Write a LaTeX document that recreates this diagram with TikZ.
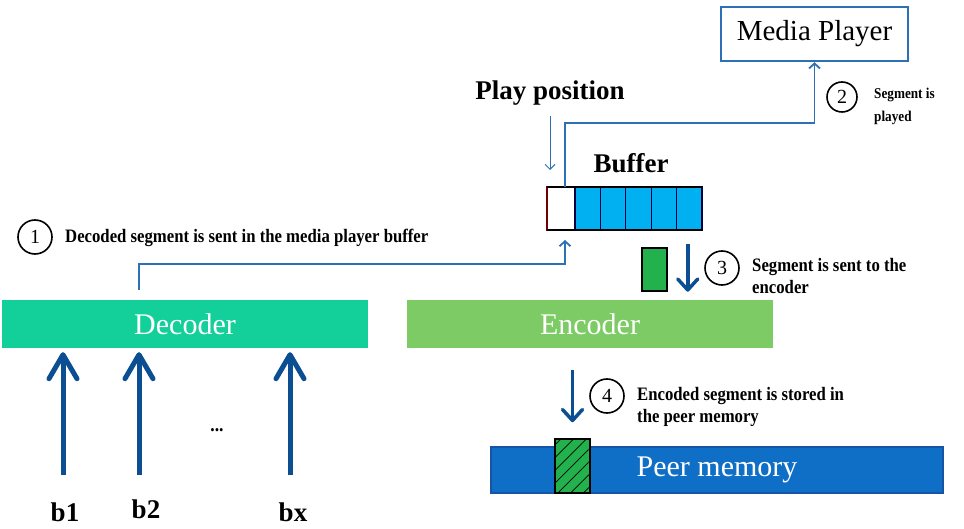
\documentclass[tikz,border=0pt]{standalone}
\usepackage{fontspec}
\usepackage{tikz}
\usetikzlibrary{arrows.meta,positioning,patterns.meta}

\newfontfamily\notefont[FakeStretch=0.88]{Liberation Serif}
\newfontfamily\headfont{Liberation Serif}

\definecolor{decgreen}{RGB}{19,207,154}
\definecolor{encgreen}{RGB}{125,203,100}
\definecolor{memblue}{RGB}{15,111,198}
\definecolor{memedge}{RGB}{22,84,165}
\definecolor{bufcyan}{RGB}{0,176,240}
\definecolor{seggreen}{RGB}{34,177,76}
\definecolor{arrblue}{RGB}{11,79,146}
\definecolor{lineblue}{RGB}{46,112,182}

\tikzset{
  bar/.style={minimum height=48pt, inner sep=0pt, text=white, font=\headfont\fontsize{30}{32}\selectfont},
  cell/.style={minimum width=25.4pt, minimum height=43pt, inner sep=0pt, outer sep=0pt,
    fill=bufcyan, draw=black!75!blue, line width=1.2pt},
  stepnum/.style={circle, draw, line width=1.6pt, minimum size=34pt, inner sep=0pt,
    font=\headfont\fontsize{20}{20}\selectfont},
  note/.style={anchor=west, align=left, inner sep=0pt, font=\notefont\fontsize{19}{22}\selectfont\bfseries},
  bigtext/.style={inner sep=0pt, font=\headfont\fontsize{27}{30}\selectfont\bfseries},
  flow/.style={draw=lineblue, line width=1.8pt, -{Straight Barb[length=5pt,width=11pt]}},
  thinarr/.style={draw=lineblue, line width=1pt, -{Straight Barb[length=5pt,width=10pt]}},
  midarr/.style={draw=arrblue, line width=3.5pt, -{Straight Barb[round,length=11pt,width=20pt]}},
  bigarr/.style={draw=arrblue, line width=5pt, -{Straight Barb[round,length=24pt,width=28pt]}}
}

\begin{document}
\begin{tikzpicture}[x=1pt,y=-1pt]
    \useasboundingbox (0,0) rectangle (964,529);

    \node[draw=lineblue, line width=2.5pt, minimum width=187pt, minimum height=54pt, inner sep=0pt,
      font=\headfont\fontsize{29}{31}\selectfont] (mp) at (814.5,34) {Media Player};
    \node[bigtext] (pp) at (550,93) {Play position};
    \node[bigtext] (buf) at (631,163) {Buffer};

    \node[cell, fill=white, draw=red!45!black, minimum width=28pt] (c0) at (561,208.5) {};
    \foreach \i [evaluate=\i as \j using int(\i-1)] in {1,...,5}
      \node[cell, right=0pt of c\j] (c\i) {};
    \draw[line width=2.5pt] (c0.north west) -- (c5.north east);
    \draw[line width=2.5pt] (c0.south west) -- (c5.south east);

    \node[bar, fill=decgreen, minimum width=366pt] (dec) at (185,324) {Decoder};
    \node[bar, fill=encgreen, minimum width=366pt] (enc) at (590,324) {Encoder};
    \node[bar, fill=memblue, draw=memedge, line width=2pt, minimum width=452pt, minimum height=46pt]
      (mem) at (717,470) {\hspace*{0pt}Peer memory};

    \node[fill=seggreen, draw=black, line width=1.5pt, minimum width=25pt, minimum height=43pt,
      inner sep=0pt] (seg) at (654.5,269.5) {};
    \node[fill=seggreen, draw=black, line width=1.5pt, minimum width=35pt, minimum height=54pt,
      inner sep=0pt, postaction={pattern={Lines[angle=45,distance=9pt,line width=0.7pt]},
      pattern color=black}] (hseg) at (572.5,466) {};

    \node[stepnum] (n1) at (35,237) {1};
    \node[stepnum, minimum size=30pt] (n2) at (842,97) {2};
    \node[stepnum] (n3) at (722,268) {3};
    \node[stepnum] (n4) at (607,396) {4};
    \node[note] (t1) at (65,238) {Decoded segment is sent in the media player buffer};
    \node[note, font=\notefont\fontsize{15}{23}\selectfont\bfseries] (t2) at (874,106) {Segment is\\played};
    \node[note] (t3) at (752,276) {Segment is sent to the\\encoder};
    \node[note] (t4) at (637,407) {Encoded segment is stored in\\the peer memory};

    \coordinate (in1) at (63,475);
    \coordinate (in2) at (139,475);
    \coordinate (inx) at (290,475);
    \node[bigtext] (b1) at (65,512) {b1};
    \node[bigtext] (b2) at (146,509) {b2};
    \node[bigtext] (bx) at (293,512) {bx};
    \node[font=\notefont\fontsize{20}{20}\selectfont\bfseries] (dots) at (217,430) {...};

    \draw[bigarr, shorten >=4pt] (in1) -- (in1 |- dec.south);
    \draw[bigarr, shorten >=4pt] (in2) -- (in2 |- dec.south);
    \draw[bigarr, shorten >=4pt] (inx) -- (inx |- dec.south);

    \draw[flow] ([yshift=10pt]in2 |- dec.north) -- ++(0,-26) -| ([xshift=4pt,yshift=-10pt]c0.south);
    \draw[flow] ([xshift=4pt]c0.north) -- ++(0,-64) -| (mp.south);
    \draw[thinarr] ([yshift=-11pt]pp.south) -- ([yshift=17pt]pp.south |- c0.north);
    \draw[midarr] ([xshift=20pt,yshift=3pt]seg.north east) -- ([xshift=20pt]seg.south east);
    \draw[midarr] ([yshift=-22pt]hseg.north |- enc.south) -- ([yshift=16pt]hseg.north);
\end{tikzpicture}
\end{document}
